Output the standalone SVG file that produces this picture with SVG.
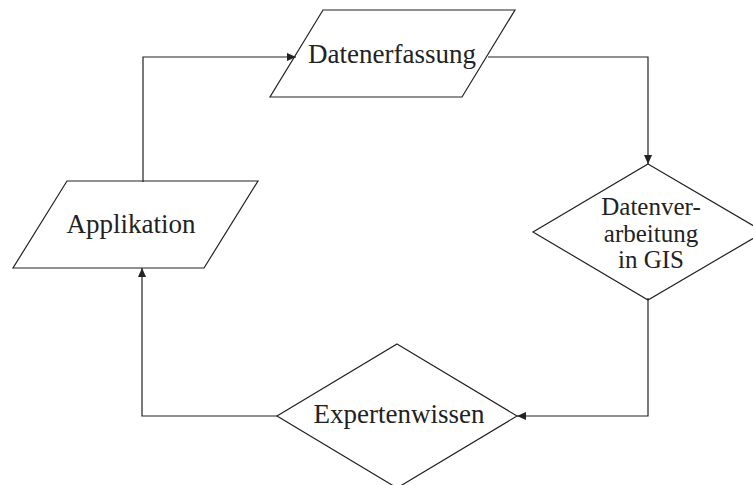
<svg xmlns="http://www.w3.org/2000/svg" width="753" height="485" viewBox="0 0 753 485">
<style>
.shape{fill:none;stroke:#222;stroke-width:1.2}
.conn{fill:none;stroke:#222;stroke-width:1.2}
.lbl{font-family:'Liberation Serif','Times New Roman',serif;font-size:27px;fill:#222;text-anchor:middle}
.sm{font-size:25px}
</style>
<defs>
<marker id="arr" viewBox="0 0 10 10" refX="10" refY="5" markerWidth="9" markerHeight="9" markerUnits="userSpaceOnUse" orient="auto">
<path d="M0,0.5 L10,5 L0,9.5 Z" fill="#222"/>
</marker>
</defs>
<rect width="753" height="485" fill="#fff"/>
<g id="connectors">
<path class="conn" d="M143,182 V57 H296" marker-end="url(#arr)"/>
<path class="conn" d="M488,57 H648 V164" marker-end="url(#arr)"/>
<path class="conn" d="M648,298 V416 H517" marker-end="url(#arr)"/>
<path class="conn" d="M277,416 H142 V268" marker-end="url(#arr)"/>
</g>
<g id="datenerfassung">
<polygon class="shape" points="323,10 515,10 462,97 270,97"/>
<text class="lbl" x="392" y="63">Datenerfassung</text>
</g>
<g id="applikation">
<polygon class="shape" points="67,181 258,181 204,268 13,268"/>
<text class="lbl" x="131" y="233">Applikation</text>
</g>
<g id="datenverarbeitung">
<polygon class="shape" points="648,164 764,232 648,300 533,232"/>
<text class="lbl sm" x="651" y="215">Datenver-</text>
<text class="lbl sm" x="651" y="242">arbeitung</text>
<text class="lbl sm" x="651" y="268">in GIS</text>
</g>
<g id="expertenwissen">
<polygon class="shape" points="397,344 517,416 397,488 277,416"/>
<text class="lbl" x="399" y="423">Expertenwissen</text>
</g>
</svg>
